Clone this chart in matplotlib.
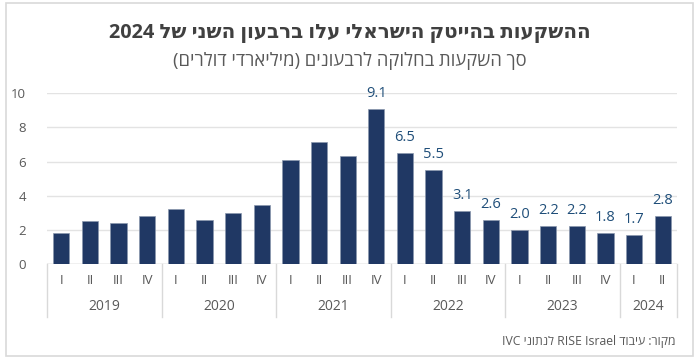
import re
import matplotlib
matplotlib.use("Agg")
import matplotlib.pyplot as plt
from matplotlib.patches import Rectangle
import matplotlib.transforms as mtransforms

plt.rcParams['font.family'] = ['Open Sans', 'DejaVu Sans']

# ---- data ----
quarters = ['I', 'II', 'III', 'IV'] * 5 + ['I', 'II']
years = ['2019', '2020', '2021', '2022', '2023', '2024']
year_sizes = [4, 4, 4, 4, 4, 2]
values = [1.84, 2.5, 2.4, 2.8, 3.2, 2.56, 2.97, 3.44, 6.07, 7.13, 6.31,
          9.1, 6.5, 5.5, 3.1, 2.6, 2.0, 2.2, 2.2, 1.8, 1.7, 2.8]
first_labeled = 11
title = "ההשקעות בהייטק הישראלי עלו ברבעון השני של 2024"
subtitle = "סך השקעות בחלוקה לרבעונים (מיליארדי דולרים)"
source = "מקור: עיבוד RISE Israel לנתוני IVC"
yticks = [0, 2, 4, 6, 8, 10]


def vis(s):
    r = s[::-1]
    r = r.translate(str.maketrans('()', ')('))
    r = re.sub(r'[A-Za-z0-9.]+(?: [A-Za-z0-9.]+)*', lambda m: m.group(0)[::-1], r)
    return r


W, H = 696, 358
fig = plt.figure(figsize=(W / 100, H / 100), dpi=100)
fig.patch.set_facecolor('white')

# outer border
fig.patches.append(Rectangle((6 / W, 2 / H), 687 / W, 353 / H, transform=fig.transFigure,
                             fill=False, edgecolor='#d9d9d9', linewidth=1.2))

ax_left, ax_right = 47, 677
y0_px, y10_px = 264, 93.3
ax = fig.add_axes([ax_left / W, (H - y0_px) / H, (ax_right - ax_left) / W, (y0_px - y10_px) / H])
ax.set_xlim(-0.5, len(values) - 0.5)
ax.set_ylim(0, 10)
for s in ax.spines.values():
    s.set_visible(False)
ax.set_yticks(yticks)
ax.set_yticklabels([str(t) for t in yticks], color='#595959', fontsize=9.5)
ax.tick_params(axis='y', length=0, pad=15)
ax.set_xticks([])
ax.grid(axis='y', color='#e3e3e3', linewidth=1)
ax.set_axisbelow(True)
ax.axhline(0, color='#d0d0d0', linewidth=1, zorder=1)

x = list(range(len(values)))
ax.bar(x, values, width=0.57, color='#203864', edgecolor='#8a97ad', linewidth=0.5, zorder=3)

for i in range(first_labeled, len(values)):
    ax.annotate(f"{values[i]:.1f}", (i, values[i]), xytext=(0, 12), textcoords='offset pixels',
                ha='center', va='baseline', color='#1f4e79', fontsize=10.5, annotation_clip=False)

# category axis
trans = mtransforms.blended_transform_factory(ax.transData, ax.transAxes)
axh = y0_px - y10_px
sep_bottom = -(317 - y0_px) / axh
for i, q in enumerate(quarters):
    ax.annotate(q, (i, 0), xycoords=trans, xytext=(0, -17), textcoords='offset pixels',
                ha='center', va='center', color='#595959', fontsize=9.5, annotation_clip=False)
pos = -0.5
ax.plot([pos, pos], [0, sep_bottom], transform=trans, color='#d9d9d9', lw=1, clip_on=False)
for yr, n in zip(years, year_sizes):
    center = pos + n / 2
    ax.annotate(yr, (center, 0), xycoords=trans, xytext=(0, -42), textcoords='offset pixels',
                ha='center', va='center', color='#595959', fontsize=10, annotation_clip=False)
    pos += n
    ax.plot([pos, pos], [0, sep_bottom], transform=trans, color='#d9d9d9', lw=1, clip_on=False)

fig.text(350 / W, 1 - 33 / H, vis(title), ha='center', va='center', fontsize=14.3,
         fontweight='bold', color='#404040')
fig.text(350 / W, 1 - 61 / H, vis(subtitle), ha='center', va='center', fontsize=13.2,
         color='#595959')
fig.text(675 / W, 1 - 342 / H, vis(source), ha='right', va='center', fontsize=8.8,
         color='#595959')

fig.savefig('out.png', dpi=100, facecolor='white')
